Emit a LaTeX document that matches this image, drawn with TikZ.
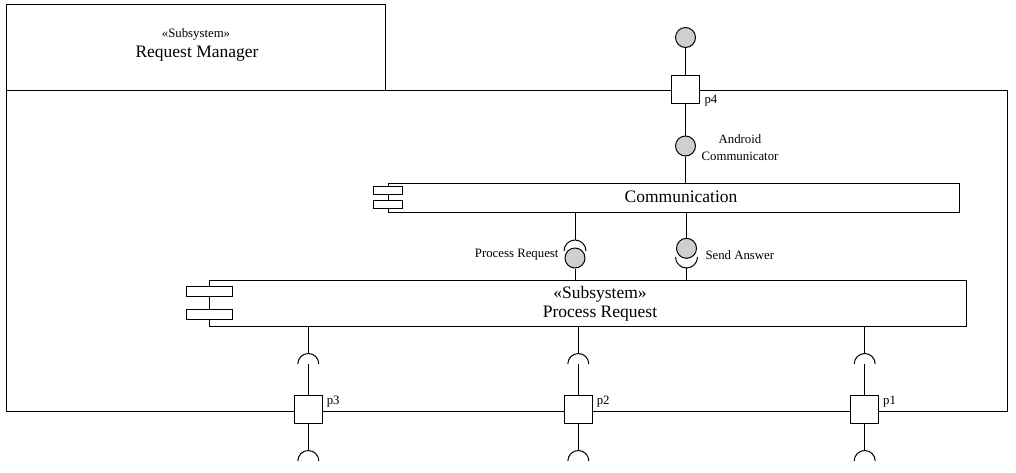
\documentclass[tikz,border=0pt]{standalone}
\usepackage{fontspec}
\setmainfont{Liberation Serif}
\definecolor{ballgray}{HTML}{CFCFCF}
\begin{document}
\begin{tikzpicture}[x=1pt,y=-1pt, line width=1pt,
  frame/.style={draw, fill=white, inner sep=0, anchor=north west},
  bar/.style={draw, fill=white, inner sep=0},
  ball/.style={circle, draw, fill=ballgray, minimum size=20pt, inner sep=0},
  portbox/.style={draw, fill=white, minimum size=28pt, inner sep=0},
  big/.style={inner sep=0, font=\fontsize{17.5}{21}\selectfont},
  stereo/.style={inner sep=0, font=\fontsize{12.8}{15}\selectfont},
  small/.style={inner sep=0, font=\fontsize{12.8}{16.7}\selectfont}
]
\useasboundingbox (0,0) rectangle (1016,472);
% subsystem frame
\node[frame, minimum width=1001pt, minimum height=321pt] (body) at (6,90) {};
\node[frame, minimum width=379pt, minimum height=86pt] (tab) at (6,4) {};
\node[stereo] (tabst) at (196,34.5) {«Subsystem»};
\node[big] (tabname) at (197,53.5) {Request Manager};

% Communication component
\node[frame, minimum width=571pt, minimum height=29pt] (comm) at (388,183) {};
\node[bar, minimum width=29pt, minimum height=7.5pt] (cb1) at (388,190.3) {};
\node[bar, minimum width=29pt, minimum height=7.5pt] (cb2) at (388,204.7) {};
\node[big] (commlabel) at (681,197) {Communication};

% Process Request component
\node[frame, minimum width=757pt, minimum height=46pt] (proc) at (209,280) {};
\node[bar, minimum width=46pt, minimum height=10pt] (pb1) at (209,291.7) {};
\node[bar, minimum width=46pt, minimum height=10pt] (pb2) at (209,314.5) {};
\node[big] (procst) at (600,294) {«Subsystem»};
\node[big] (procname) at (600,314) {Process Request};

% port p4
\node[portbox] (p4) at (685.5,89) {};
\node[small, anchor=west] (p4l) at (704,101) {p4};
\node[ball] (topball) at (685.5,37.5) {};
\node[ball] (acball) at (685.5,146) {};
\draw (topball) -- (p4);
\draw (p4) -- (acball);
\draw (acball) -- (acball |- comm.north);
\node[small, align=center] (acl) at (740,147.5) {Android\\Communicator};

% Process Request interface (required by Communication, provided by Process Request)
\coordinate (prtop) at (575,240);
\node[ball] (prball) at (575,258) {};
\draw (comm.south -| prtop) -- (prtop);
\draw (586,251) arc[start angle=0, end angle=180, radius=11pt];
\draw (prball) -- (prball |- proc.north);
\node[small, anchor=east] (prl) at (559,255) {Process Request};

% Send Answer interface
\node[ball] (saball) at (686.5,248.3) {};
\coordinate (sabot) at (686.5,268);
\draw (comm.south -| saball) -- (saball);
\draw (675.5,257) arc[start angle=180, end angle=360, radius=11pt];
\draw (sabot) -- (sabot |- proc.north);
\node[small, anchor=west] (sal) at (705,255) {Send Answer};

% bottom ports
\foreach \n/\x in {3/308.3, 2/578.3, 1/864.7}{
  \node[portbox] (p\n) at (\x,409.5) {};
  \node[small, anchor=west] (p\n l) at (\x+18,402) {p\n};
  \coordinate (ut\n) at (\x,353.5);
  \coordinate (uc\n) at (\x,364);
  \coordinate (lt\n) at (\x,450.5);
  \draw (proc.south -| ut\n) -- (ut\n);
  \draw (\x+10.5,364) arc[start angle=0, end angle=180, radius=10.5pt];
  \draw (uc\n) -- (p\n);
  \draw (p\n) -- (lt\n);
  \draw (\x+10.5,461) arc[start angle=0, end angle=180, radius=10.5pt];
}
\end{tikzpicture}
\end{document}
